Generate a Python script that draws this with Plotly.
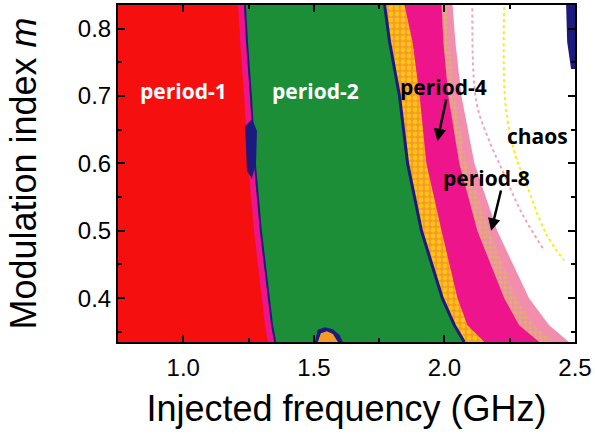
import plotly.graph_objects as go

# ---- data (frequency in GHz, modulation index m) ----
m_levels = [0.835, 0.78, 0.70, 0.60, 0.50, 0.40, 0.36, 0.335]

# right-hand boundary of each dynamical regime at the m levels above
p1_edge        = [1.210, 1.218, 1.233, 1.248, 1.271, 1.302, 1.313, 1.324]
p1p2_edge      = [1.236, 1.244, 1.259, 1.274, 1.297, 1.328, 1.340, 1.352]
p2_edge        = [1.771, 1.790, 1.828, 1.859, 1.912, 1.992, 2.038, 2.076]
p4_onset_edge  = [1.847, 1.878, 1.905, 1.931, 1.989, 2.050, 2.088, 2.153]
p4_edge        = [1.989, 1.996, 2.015, 2.057, 2.126, 2.229, 2.286, 2.363]
p8_edge        = [2.008, 2.019, 2.038, 2.084, 2.172, 2.275, 2.344, 2.420]
chaos_edge     = [2.031, 2.042, 2.065, 2.115, 2.202, 2.324, 2.401, 2.477]

# small islands / features
island_f   = [1.504, 1.515, 1.542, 1.573, 1.599, 1.611]
island_m   = [0.335, 0.353, 0.357, 0.354, 0.345, 0.335]
island_in_f = [1.515, 1.527, 1.550, 1.573, 1.592]
island_in_m = [0.335, 0.348, 0.351, 0.347, 0.335]
blob_f = [1.237, 1.263, 1.282, 1.279, 1.263, 1.244]
blob_m = [0.655, 0.666, 0.648, 0.604, 0.577, 0.589]
corner_f = [2.466, 2.470, 2.485, 2.500, 2.500]
corner_m = [0.835, 0.780, 0.740, 0.740, 0.835]
arc1_f = [2.229, 2.233, 2.267, 2.313, 2.389, 2.458]
arc1_m = [0.832, 0.692, 0.618, 0.570, 0.496, 0.456]
arc2_f = [2.107, 2.122, 2.172, 2.218, 2.298, 2.382]
arc2_m = [0.830, 0.692, 0.633, 0.593, 0.525, 0.471]

x_ticks = [1.0, 1.5, 2.0, 2.5]
x_ticklabels = ["1.0", "1.5", "2.0", "2.5"]
x_minor = [0.75, 1.25, 1.75, 2.25]
y_ticks = [0.4, 0.5, 0.6, 0.7, 0.8]
y_ticklabels = ["0.4", "0.5", "0.6", "0.7", "0.8"]
y_minor = [0.35, 0.45, 0.55, 0.65, 0.75]

RED = "#F50F0F"
GREEN = "#1B8E37"
MAGENTA = "#EE148C"
PINK = "#F28DAE"
NAVY = "#1C1A7E"
YELLOW = "#FFEE00"
ORANGE = "#F79A2A"
CYAN = "#3DB5D0"

fig = go.Figure()


def region(edge, color, pattern=None):
    fig.add_trace(go.Scatter(
        x=edge, y=m_levels, mode="lines", line=dict(width=0, color=color),
        fill="tozerox", fillcolor=color, fillpattern=pattern,
        showlegend=False, hoverinfo="skip"))


def boundary(edge, color, width):
    fig.add_trace(go.Scatter(
        x=edge, y=m_levels, mode="lines", line=dict(width=width, color=color),
        showlegend=False, hoverinfo="skip"))


def patch(fx, my, color):
    fig.add_trace(go.Scatter(
        x=fx, y=my, mode="lines", fill="toself", fillcolor=color,
        line=dict(width=0, color=color), showlegend=False, hoverinfo="skip"))


region(chaos_edge, PINK)
region(p8_edge, PINK, dict(shape=".", fgcolor="#C9D22A", bgcolor=PINK, size=5, solidity=0.45))
region(p4_edge, MAGENTA)
region(p4_onset_edge, ORANGE, dict(shape=".", fgcolor=YELLOW, bgcolor=ORANGE, size=6, solidity=0.5))
region(p2_edge, GREEN)
boundary(p2_edge, NAVY, 3)
region(p1p2_edge, MAGENTA)
boundary(p1p2_edge, NAVY, 2)
region(p1_edge, RED)

patch(blob_f, blob_m, NAVY)
patch(island_f, island_m, NAVY)
patch(island_in_f, island_in_m, ORANGE)
patch(corner_f, corner_m, NAVY)

fig.add_trace(go.Scatter(x=arc1_f, y=arc1_m, mode="lines",
                         line=dict(color=YELLOW, width=2, dash="dot", shape="spline"),
                         showlegend=False, hoverinfo="skip"))
fig.add_trace(go.Scatter(x=arc2_f, y=arc2_m, mode="lines",
                         line=dict(color="#F4A3BE", width=2, dash="dot", shape="spline"),
                         showlegend=False, hoverinfo="skip"))

lab_font = dict(family="Open Sans", size=21, color="white")
fig.add_annotation(x=1.0, y=0.707, text="<b>period-1</b>", showarrow=False, font=lab_font)
fig.add_annotation(x=1.508, y=0.707, text="<b>period-2</b>", showarrow=False, font=lab_font)
blk = dict(family="Open Sans", size=21, color="black")
fig.add_annotation(x=1.996, y=0.714, text="<b>period-4</b>", showarrow=False, font=blk)
fig.add_annotation(x=2.355, y=0.641, text="<b>chaos</b>", showarrow=False, font=blk)
fig.add_annotation(x=2.160, y=0.579, text="<b>period-8</b>", showarrow=False, font=blk)
for (hx, hy, tx, ty) in [(1.973, 0.633, 2.008, 0.697), (2.179, 0.500, 2.218, 0.562)]:
    fig.add_annotation(x=hx, y=hy, ax=tx, ay=ty, xref="x", yref="y", axref="x", ayref="y",
                       text="", showarrow=True, arrowhead=2, arrowsize=1,
                       arrowwidth=2.5, arrowcolor="black")

axis_font = "Liberation Sans, Arial, sans-serif"
common = dict(ticks="inside", ticklen=7, tickwidth=2, tickcolor="black",
              showline=True, linewidth=2, linecolor="black", mirror="allticks",
              showgrid=False, zeroline=False,
              tickfont=dict(family=axis_font, size=24, color="black"))
fig.update_xaxes(range=[0.75, 2.5], tickvals=x_ticks, ticktext=x_ticklabels,
                 ticklabelstandoff=3,
                 minor=dict(tickvals=x_minor, ticks="inside", ticklen=4, tickwidth=2, tickcolor="black"),
                 title=dict(text="Injected frequency (GHz)", standoff=16,
                            font=dict(family=axis_font, size=36, color="black")),
                 **common)
fig.update_yaxes(range=[0.335, 0.835], tickvals=y_ticks, ticktext=y_ticklabels,
                 minor=dict(tickvals=y_minor, ticks="inside", ticklen=4, tickwidth=2, tickcolor="black"),
                 title=dict(text="Modulation index <i>m</i>", standoff=30,
                            font=dict(family=axis_font, size=36, color="black")),
                 **common)
fig.update_layout(width=595, height=434, margin=dict(l=118, r=18, t=3, b=92),
                  plot_bgcolor="white", paper_bgcolor="white")
fig.write_html("out.html")
